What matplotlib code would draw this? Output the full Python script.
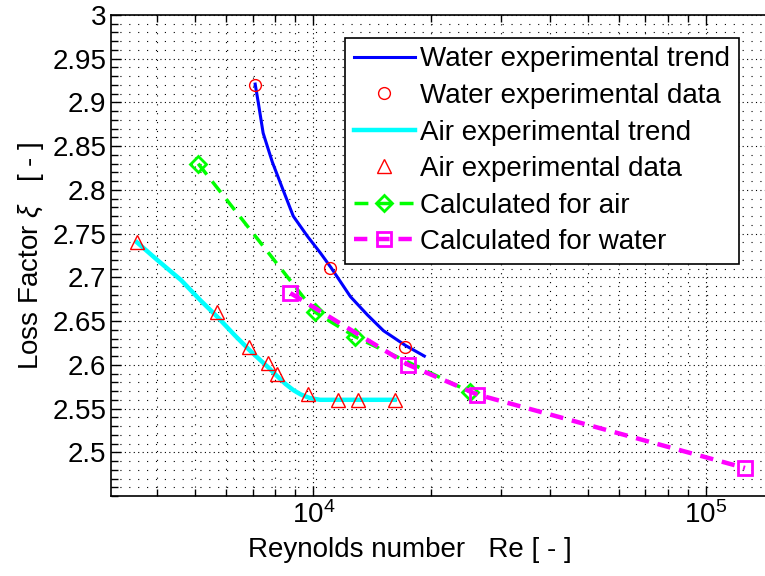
import numpy as np
import matplotlib
matplotlib.use('Agg')
from matplotlib import pyplot as plt
from matplotlib.ticker import FixedLocator, FuncFormatter, LogLocator, NullFormatter

plt.rcParams['font.family'] = ['Liberation Sans', 'DejaVu Sans']
plt.rcParams['mathtext.fontset'] = 'custom'
plt.rcParams['mathtext.rm'] = 'Liberation Sans'
plt.rcParams['mathtext.it'] = 'Liberation Sans:italic'

# water experiments
re_water_trend = [7110, 7240, 7450, 7860, 8340, 8890, 9660, 10420, 11100, 12430, 13740,
                  15090, 17190, 19180]
k_water_trend = [2.921, 2.900, 2.865, 2.832, 2.802, 2.770, 2.747, 2.728, 2.711, 2.678, 2.657,
                 2.639, 2.622, 2.610]
re_water_data = [7110, 11050, 17170]
k_water_data = [2.92, 2.711, 2.62]

# air experiments
re_air_trend = [3556, 4000, 4600, 5150, 5690, 6300, 6870, 7300, 7680, 8090, 8500, 8900,
                9300, 9800, 10400, 11580, 13030, 16110]
k_air_trend = [2.74, 2.72, 2.697, 2.674, 2.655, 2.634, 2.617, 2.606, 2.597, 2.587, 2.578, 2.571,
               2.566, 2.562, 2.56, 2.56, 2.56, 2.56]
re_air_data = [3556, 5690, 6870, 7680, 8090, 9710, 11580, 13030, 16110]
k_air_data = [2.741, 2.66, 2.62, 2.602, 2.59, 2.567, 2.56, 2.56, 2.56]

# calculated
re_calc_air = [5090, 10120, 12800, 25100]
k_calc_air = [2.83, 2.66, 2.632, 2.569]
re_calc_water = [8740, 17460, 26180, 125800]
k_calc_water = [2.682, 2.600, 2.566, 2.482]

fig = plt.figure(figsize=(7.65, 5.76), dpi=100)
ax = fig.add_axes([111/765, 80/576, 655/765, 481/576])

ax.plot(re_water_trend, k_water_trend, c='#0000ff', lw=2.2, label='Water experimental trend', zorder=3)
ax.plot(re_water_data, k_water_data, 'o', mfc='none', mec='r', ms=8.5, mew=1.0,
        label='Water experimental data', zorder=4)
ax.plot(re_air_trend, k_air_trend, c='#00ffff', lw=3.2, label='Air experimental trend', zorder=3)
ax.plot(re_air_data, k_air_data, '^', mfc='none', mec='r', ms=10, mew=1.0,
        label='Air experimental data', zorder=4)
ax.plot(re_calc_air, k_calc_air, '--', c='#00ff00', marker='D', mfc='none', mew=2, ms=8,
        lw=2.5, dashes=(4, 2.5), label='Calculated for air', zorder=3)
ax.plot(re_calc_water, k_calc_water, '--', c='#ff00ff', marker='s', mfc='none', mew=2, ms=10,
        lw=3.2, dashes=(3, 2), label='Calculated for water', zorder=3)

ax.set_xscale('log')
ax.set_xlim(3052, 142300)
ax.set_ylim(2.45, 3.0)
ax.yaxis.set_major_locator(FixedLocator(np.arange(2.5, 3.001, 0.05)))
ax.yaxis.set_minor_locator(FixedLocator(np.arange(2.45, 3.001, 0.01)))
ax.yaxis.set_major_formatter(FuncFormatter(lambda v, p: '%g' % round(v, 2)))
ax.xaxis.set_minor_locator(LogLocator(base=10, subs=np.arange(2, 10)))
ax.xaxis.set_minor_formatter(NullFormatter())

ax.grid(True, which='major', color='k', ls=(0, (1, 3)), lw=0.8)
ax.grid(True, which='minor', color='k', ls=(0, (1, 7)), lw=0.8)
ax.tick_params(which='both', direction='in', top=True, right=False, labelsize=20, width=1)
ax.tick_params(which='major', length=7)
ax.tick_params(which='minor', length=5)
for s in ax.spines.values():
    s.set_linewidth(1.2)
ax.spines['right'].set_visible(False)

ax.set_xlabel('Reynolds number   Re [ - ]', fontsize=20)
ax.xaxis.set_label_coords(0.456, -0.085)
ax.set_ylabel(r'Loss Factor $\xi$   [ - ]', fontsize=20)
ax.yaxis.set_label_coords(-0.1, 0.5)

leg = ax.legend(loc='upper left', bbox_to_anchor=(0.358, 0.952), borderaxespad=0,
                fontsize=20, handlelength=2.2, handletextpad=0.2, labelspacing=0.38,
                fancybox=False, framealpha=1, edgecolor='k', borderpad=0.3)
leg.get_frame().set_linewidth(1.2)

plt.savefig('out.png')
plt.close()
